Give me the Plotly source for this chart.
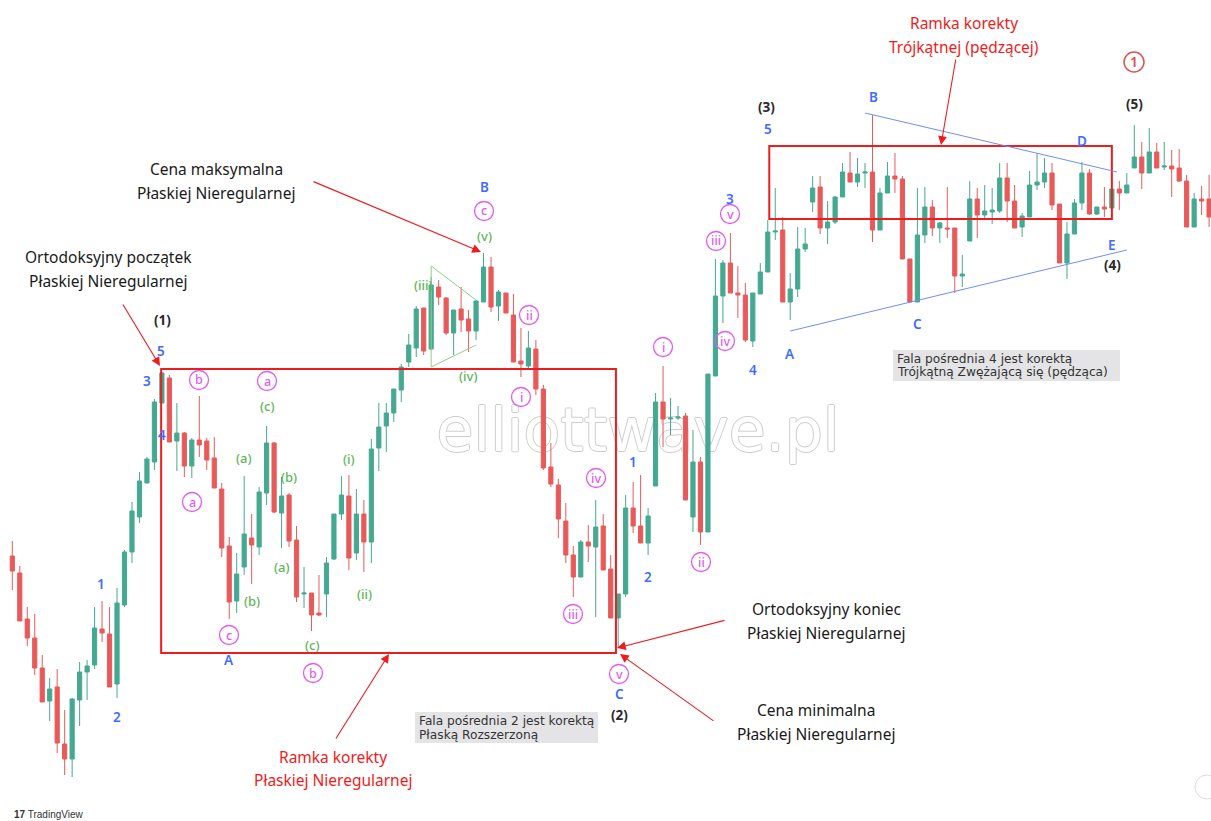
import plotly.graph_objects as go

W, H = 1211, 821
X0_PX, DX_PX = 12.3, 7.48   # first candle centre and candle spacing (pixels)

idx = list(range(161))
open_ = [265, 248, 202, 183, 153, 120, 134, 77, 62, 121,
         149, 156, 192, 187, 137, 216, 269, 304, 338, 359,
         418, 443, 380, 388, 355, 381, 380, 363, 332, 275,
         220, 254, 283, 274, 328, 378, 308, 326, 281, 227,
         228, 208, 227, 262, 307, 325, 268, 307, 279, 373,
         395, 408, 431, 459, 473, 513, 472, 534, 523, 488,
         512, 502, 490, 519, 554, 515, 528, 506, 460, 455,
         472, 432, 354, 336, 300, 266, 244, 279, 274, 295,
         252, 203, 227, 313, 295, 278, 335, 419, 402, 403,
         405, 304, 359, 289, 445, 525, 558, 528, 526, 480,
         527, 549, 589, 591, 519, 532, 572, 619, 634, 593,
         599, 624, 648, 639, 648, 649, 591, 628, 645, 642,
         562, 519, 586, 614, 593, 593, 593, 545, 580, 622,
         606, 609, 610, 643, 620, 594, 604, 636, 639, 648,
         617, 558, 587, 618, 648, 607, 614, 613, 632, 628,
         653, 664, 648, 669, 654, 655, 653, 640, 594, 622,
         622]
high = [280, 255, 214, 207, 166, 143, 152, 111, 123, 159,
        161, 214, 220, 214, 233, 271, 319, 349, 364, 422,
        449, 446, 418, 389, 383, 425, 383, 384, 338, 284,
        268, 345, 307, 334, 395, 379, 344, 328, 295, 254,
        228, 246, 264, 307, 345, 346, 332, 321, 382, 418,
        418, 432, 457, 487, 515, 513, 544, 541, 524, 511,
        534, 511, 521, 568, 564, 531, 528, 527, 493, 490,
        481, 436, 378, 342, 318, 275, 281, 296, 321, 307,
        266, 227, 326, 339, 346, 313, 428, 455, 423, 415,
        408, 391, 364, 447, 562, 561, 588, 555, 538, 528,
        558, 601, 633, 604, 548, 594, 593, 645, 645, 620,
        625, 658, 669, 663, 658, 706, 633, 659, 668, 645,
        562, 633, 634, 621, 599, 634, 593, 566, 640, 633,
        636, 633, 658, 658, 636, 608, 650, 668, 663, 658,
        617, 599, 622, 659, 652, 614, 634, 632, 640, 648,
        696, 679, 693, 678, 679, 671, 672, 646, 628, 635,
        646]
low = [231, 231, 175, 146, 119, 100, 68, 46, 44, 95,
       121, 152, 179, 134, 123, 214, 258, 298, 338, 351,
       418, 379, 350, 344, 343, 364, 351, 333, 264, 202,
       208, 246, 237, 266, 316, 308, 273, 274, 219, 213,
       190, 205, 204, 261, 301, 251, 261, 249, 258, 350,
       369, 399, 419, 454, 464, 466, 471, 516, 486, 466,
       489, 469, 481, 519, 509, 500, 508, 459, 444, 451,
       426, 351, 334, 283, 258, 224, 244, 259, 204, 251,
       203, 173, 224, 288, 278, 266, 335, 374, 386, 401,
       321, 289, 276, 289, 445, 498, 528, 503, 479, 474,
       527, 549, 581, 519, 501, 524, 569, 609, 587, 577,
       597, 624, 639, 634, 633, 579, 591, 628, 628, 562,
       519, 519, 578, 585, 578, 583, 528, 534, 580, 583,
       601, 597, 608, 599, 593, 584, 604, 631, 633, 611,
       558, 542, 587, 611, 606, 606, 604, 613, 611, 628,
       653, 632, 648, 653, 651, 624, 639, 594, 594, 606,
       594]
close = [250, 200, 183, 153, 119, 132, 78, 62, 122, 149,
         155, 193, 188, 134, 218, 269, 310, 340, 362, 419,
         448, 379, 388, 355, 381, 376, 361, 333, 273, 219,
         247, 287, 276, 329, 378, 309, 325, 280, 224, 228,
         206, 206, 258, 307, 326, 263, 307, 279, 372, 394,
         408, 432, 454, 476, 512, 470, 536, 524, 488, 511,
         501, 490, 520, 554, 514, 529, 508, 459, 457, 473,
         432, 353, 337, 302, 266, 244, 279, 275, 294, 251,
         203, 227, 313, 295, 278, 305, 419, 402, 403, 404,
         321, 359, 289, 447, 525, 558, 528, 526, 481, 528,
         549, 589, 590, 519, 532, 572, 577, 633, 593, 599,
         624, 649, 639, 647, 649, 591, 628, 645, 642, 562,
         519, 586, 614, 593, 598, 592, 545, 547, 622, 606,
         610, 611, 643, 620, 593, 605, 636, 639, 648, 616,
         558, 587, 618, 648, 607, 614, 612, 632, 628, 636,
         664, 648, 669, 653, 655, 652, 640, 594, 622, 620,
         604]

# wave labels: (text, x_px, y_px)
blue_labels = [("1", 101, 584), ("2", 117, 717), ("3", 147, 381), ("4", 162, 435),
               ("5", 161, 351), ("A", 229, 660), ("B", 484, 187), ("C", 619, 694),
               ("1", 633, 462), ("2", 648, 577), ("3", 730, 199), ("4", 753, 370),
               ("5", 768, 129), ("A", 790, 354), ("B", 873, 97), ("C", 917, 324),
               ("D", 1082, 141), ("E", 1112, 245)]
black_labels = [("(1)", 162, 320), ("(2)", 619, 715), ("(3)", 767, 107),
                ("(4)", 1112, 265), ("(5)", 1134, 104)]
green_labels = [("(c)", 267, 406), ("(a)", 244, 458), ("(b)", 289, 477), ("(a)", 282, 567),
                ("(b)", 252, 601), ("(c)", 312, 645), ("(i)", 349, 459), ("(ii)", 364, 594),
                ("(iii)", 424, 285), ("(iv)", 468, 376), ("(v)", 484, 236)]
pink_labels = [("b", 199, 380), ("a", 267, 381), ("a", 192, 502), ("c", 229, 635),
               ("b", 313, 673), ("c", 484, 211), ("ii", 529, 315), ("i", 521, 397),
               ("iv", 596, 478), ("iii", 573, 614), ("v", 619, 674), ("i", 663, 347),
               ("ii", 701, 562), ("iii", 716, 241), ("v", 730, 214), ("iv", 725, 341)]

UP, DN = "#45a991", "#e85a5a"
BLUE, GREEN, PINK, RED = "#3f6cff", "#5fb65a", "#e05cf0", "#ee1c1c"
FONT = "Noto Sans"


def px(x):
    return x / W


def py(y):
    return 1 - y / H


fig = go.Figure(go.Candlestick(
    x=idx, open=open_, high=high, low=low, close=close,
    increasing=dict(line=dict(color=UP, width=1), fillcolor=UP),
    decreasing=dict(line=dict(color=DN, width=1), fillcolor=DN),
    whiskerwidth=0, hoverinfo="skip", showlegend=False))

ann = []
shapes = []


def label(text, x, y, color, size=13, family="Liberation Sans", weight="normal",
          xanchor="center"):
    ann.append(dict(text=text, x=px(x), y=py(y),
                    xref="paper", yref="paper", showarrow=False,
                    xanchor=xanchor, yanchor="middle",
                    font=dict(color=color, size=size, family=family, weight=weight)))


for t, x, y in blue_labels:
    label(t, x, y, BLUE, 13.5, family=FONT, weight=600)
for t, x, y in black_labels:
    label(t, x, y, "#2a2a2a", 13.5, family=FONT, weight="bold")
for t, x, y in green_labels:
    label(t, x, y, GREEN, 13, family=FONT, weight=500)
for t, x, y in pink_labels:
    r = 9.5
    shapes.append(dict(type="circle", xref="paper", yref="paper",
                       x0=px(x - r), x1=px(x + r), y0=py(y + r), y1=py(y - r),
                       line=dict(color=PINK, width=1.3), fillcolor="rgba(255,255,255,0)"))
    label(t, x, y, PINK, 12.5, family=FONT, weight=500)
# red circled 1
shapes.append(dict(type="circle", xref="paper", yref="paper",
                   x0=px(1124), x1=px(1144), y0=py(72), y1=py(52),
                   line=dict(color="#d9534f", width=1.5)))
label("1", 1134, 62, "#d9534f", 14, family=FONT, weight=600)

# correction frames (data coordinates)
shapes.append(dict(type="rect", xref="x", yref="y", x0=19.9, x1=80.7, y0=168, y1=452,
                   line=dict(color=RED, width=2)))
shapes.append(dict(type="rect", xref="x", yref="y", x0=101.2, x1=147.0, y0=602, y1=675,
                   line=dict(color=RED, width=2)))
# triangle trend lines
shapes.append(dict(type="line", xref="x", yref="y", x0=104, y0=490, x1=149, y1=571,
                   line=dict(color="#6f8ff5", width=1)))
shapes.append(dict(type="line", xref="x", yref="y", x0=114, y0=708, x1=147.7, y1=649,
                   line=dict(color="#6f8ff5", width=1)))
# small green triangle (iv)
for (a, b, c, d) in [(56, 555, 56, 454), (56, 555, 62, 521), (56, 454, 62, 476)]:
    shapes.append(dict(type="line", xref="x", yref="y", x0=a, y0=b, x1=c, y1=d,
                       line=dict(color="#8fd08a", width=1)))

# grey info boxes
for (x0, y0, x1, y1, l1, l2) in [
        (415, 712, 598, 743, "Fala pośrednia 2 jest korektą", "Płaską Rozszerzoną"),
        (893, 350, 1120, 381, "Fala pośrednia 4 jest korektą", "Trójkątną Zwężającą się (pędząca)")]:
    shapes.append(dict(type="rect", xref="paper", yref="paper", x0=px(x0), x1=px(x1),
                       y0=py(y1), y1=py(y0), line=dict(width=0), fillcolor="#e4e4e6"))
    label(l1, x0 + 2, y0 + 8.5, "#333333", 12.2, family="DejaVu Sans", xanchor="left")
    label(l2, x0 + 2, y0 + 22.5, "#333333", 12.2, family="DejaVu Sans", xanchor="left")

# watermark (below candles)
shapes.append(dict(type="rect", xref="paper", yref="paper", layer="below",
                   x0=px(420), x1=px(856), y0=py(468), y1=py(383), line=dict(width=0),
                   label=dict(text="elliottwave.pl", textposition="middle center",
                              font=dict(family="DejaVu Sans", size=60, color="white",
                                        shadow="1px 0 0 #cdcdcd, -1px 0 0 #cdcdcd, 0 1px 0 #cdcdcd, 0 -1px 0 #cdcdcd"))))

# text blocks, one annotation per line
blocks = [
    ("Ortodoksyjny początek", 108, 257, "#1a1a1a"), ("Płaskiej Nieregularnej", 108, 281, "#1a1a1a"),
    ("Cena maksymalna", 216, 169, "#1a1a1a"), ("Płaskiej Nieregularnej", 216, 193, "#1a1a1a"),
    ("Ramka korekty", 964, 23, RED), ("Trójkątnej (pędzącej)", 964, 47, RED),
    ("Ortodoksyjny koniec", 826, 609, "#1a1a1a"), ("Płaskiej Nieregularnej", 826, 633, "#1a1a1a"),
    ("Cena minimalna", 816, 710, "#1a1a1a"), ("Płaskiej Nieregularnej", 816, 734, "#1a1a1a"),
    ("Ramka korekty", 333, 757, RED), ("Płaskiej Nieregularnej", 333, 780, RED),
]
for t, x, y, c in blocks:
    label(t, x, y, c, 15.5, family=FONT)

# arrows: (tip_x, tip_y, tail_x, tail_y)
for (tx, ty, sx, sy) in [(160, 366, 122, 303), (481, 252, 312, 181), (941, 145, 956, 58),
                         (389, 654, 335, 740), (617, 648, 726, 620), (620, 654, 715, 722)]:
    ann.append(dict(text="", x=px(tx), y=py(ty), xref="paper", yref="paper",
                    showarrow=True, ax=sx - tx, ay=sy - ty, axref="pixel", ayref="pixel",
                    arrowhead=2, arrowsize=1.6, arrowwidth=1.1, arrowcolor=RED))

# TradingView logo
ann.append(dict(text="<b>17</b> TradingView", x=px(12), y=py(814), xref="paper", yref="paper",
                showarrow=False, xanchor="left", yanchor="middle",
                font=dict(family="Liberation Sans", size=10, color="#333333")))
shapes.append(dict(type="circle", xref="paper", yref="paper",
                   x0=px(1195), x1=px(1219), y0=py(799), y1=py(775),
                   line=dict(color="#dddddd", width=1), fillcolor="white"))

fig.update_layout(
    width=W, height=H, margin=dict(l=0, r=0, t=0, b=0),
    paper_bgcolor="white", plot_bgcolor="white",
    xaxis=dict(range=[-X0_PX / DX_PX, (W - X0_PX) / DX_PX], visible=False,
               rangeslider=dict(visible=False), fixedrange=True),
    yaxis=dict(range=[0, H], visible=False, fixedrange=True),
    boxgap=0.2, annotations=ann, shapes=shapes, showlegend=False)

fig.write_html("out.html", config={"displayModeBar": False},
               post_script="document.body.style.margin='0px';")
